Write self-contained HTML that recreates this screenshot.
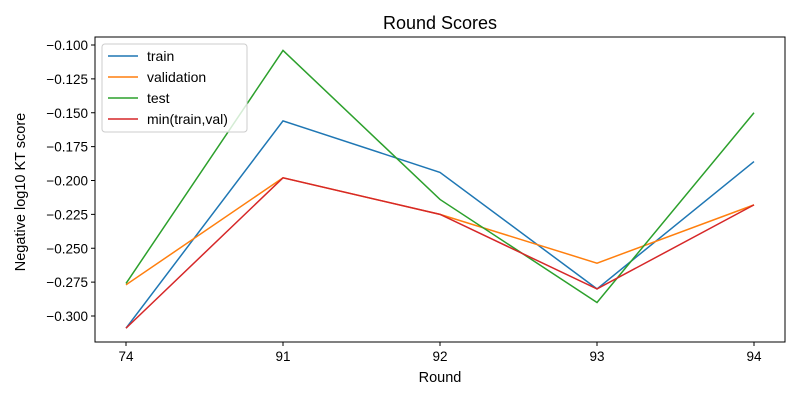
<!DOCTYPE html>
<html><head><meta charset="utf-8"><style>
body{margin:0;background:#fff;}
svg{display:block;font-family:"Liberation Sans","DejaVu Sans",sans-serif;}
</style></head><body>
<svg id="chart" width="800" height="400">
<rect width="800" height="400" fill="#fff"/>
<text x="440" y="29" text-anchor="middle" font-size="18">Round Scores</text>
<g id="grid"></g>
<g id="series"></g>
<rect x="95" y="37" width="690" height="305" fill="none" stroke="#000" stroke-width="1"/>
<g id="axes" font-size="13.5"></g>
<text x="440" y="382" text-anchor="middle" font-size="14.5">Round</text>
<text transform="translate(25,192) rotate(-90)" text-anchor="middle" font-size="14.5">Negative log10 KT score</text>
<g id="legend" font-size="14"></g>
</svg>
<script>
const categories = ["74","91","92","93","94"];
const trainValues = [-0.309,-0.156,-0.194,-0.280,-0.186];
const validationValues = [-0.277,-0.198,-0.225,-0.261,-0.218];
const testValues = [-0.276,-0.104,-0.214,-0.290,-0.150];
const minValues = [-0.309,-0.198,-0.225,-0.280,-0.218];
const yTicks = [-0.100,-0.125,-0.150,-0.175,-0.200,-0.225,-0.250,-0.275,-0.300];
const seriesNames = ["train","validation","test","min(train,val)"];

const NS="http://www.w3.org/2000/svg";
function xPos(i){return 126+i*(754-126)/(categories.length-1);}
function yPos(v){return 45+(-0.1-v)*1355;}
function mk(tag,attrs,parent){const e=document.createElementNS(NS,tag);for(const k in attrs)e.setAttribute(k,attrs[k]);parent.appendChild(e);return e;}
const axes=document.getElementById('axes');
categories.forEach((c,i)=>{
  const t=mk('line',{x1:xPos(i),x2:xPos(i),y1:342,y2:346,stroke:'#000'},axes);
  
  
  const l=mk('text',{x:xPos(i),y:361,'text-anchor':'middle'},axes);
  l.textContent=c;
  
  
});
yTicks.forEach(v=>{
  const t=mk('line',{x1:91,x2:95,y1:yPos(v),y2:yPos(v),stroke:'#000'},axes);
  
  
  const l=mk('text',{x:88,y:yPos(v)+5,'text-anchor':'end'},axes);
  l.textContent='\u2212'+Math.abs(v).toFixed(3);
  
  
});
const colors=["#1f77b4","#ff7f0e","#2ca02c","#d62728"];
const all=[trainValues,validationValues,testValues,minValues];
const sg=document.getElementById('series');
all.forEach((vals,si)=>{
  const p=mk('polyline',{points:vals.map((v,i)=>xPos(i)+','+yPos(v)).join(' '),fill:'none',stroke:colors[si],'stroke-width':1.5},sg);
  
  
});
const lg=document.getElementById('legend');
const box=mk('rect',{x:102,y:44,width:145,height:88,rx:3,fill:'#fff','fill-opacity':0.8,stroke:'#ccc'},lg);


seriesNames.forEach((n,i)=>{
  const y=56+i*21;
  const ln=mk('line',{x1:108,x2:138,y1:y,y2:y,stroke:colors[i],'stroke-width':1.5},lg);
  
  
  const t=mk('text',{x:147,y:y+5},lg);
  t.textContent=n;
  
  
});
</script>
</body></html>
